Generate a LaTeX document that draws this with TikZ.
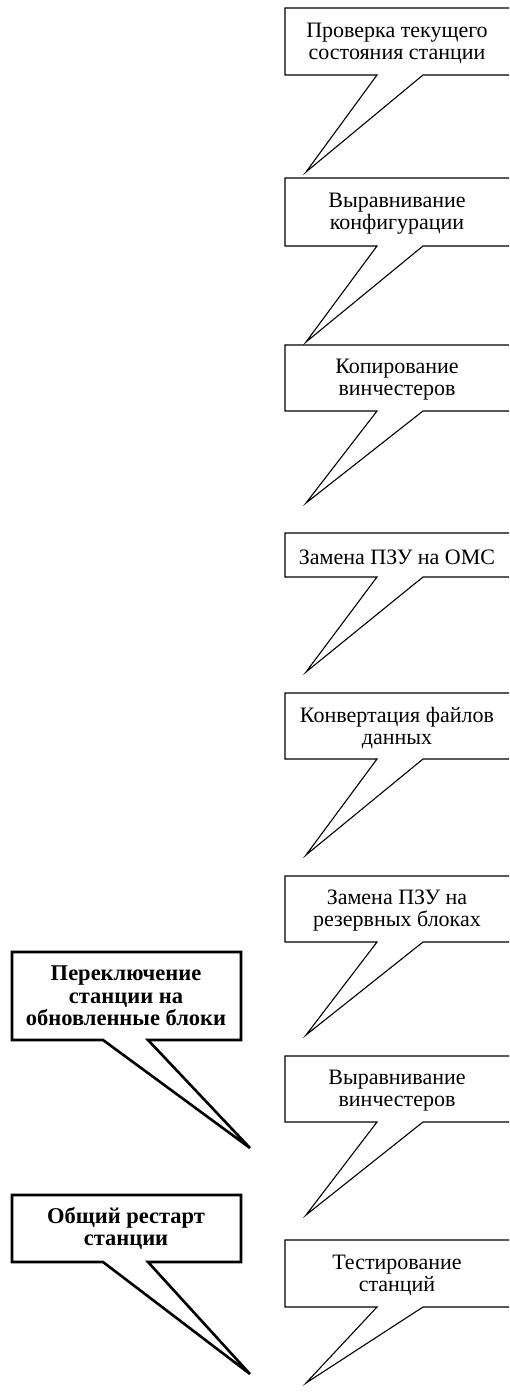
\documentclass[tikz,border=0pt]{standalone}
\usepackage{fontspec}
\setmainfont{Liberation Serif}
\newcommand\rcall[5]{%
  \draw[thinbox] (285,#2) -- (515,#2) -- (515,#3) -- (423,#3) -- (306,#4) -- (377,#3) -- (285,#3) -- cycle;
  \node[rtext] (#1) at (397,{(#2+#3)/2+2}) {#5};
}
\newcommand\lcall[5]{%
  \draw[thickbox] (12,#2) -- (241,#2) -- (241,#3) -- (148,#3) -- (250,#4) -- (103,#3) -- (12,#3) -- cycle;
  \node[btext] (#1) at (126,{(#2+#3)/2}) {#5};
}
\begin{document}
\begin{tikzpicture}[x=1pt,y=-1pt,
  thinbox/.style={draw=black, line width=1.1pt, fill=white},
  thickbox/.style={draw=black, line width=2.6pt, fill=white},
  rtext/.style={font=\fontsize{22}{22}\selectfont, align=center, inner sep=0pt},
  btext/.style={font=\fontsize{22.5}{22.5}\selectfont\bfseries, align=center, inner sep=0pt}]
\useasboundingbox (0,0) rectangle (509,1397);
\clip (0,0) rectangle (509,1397);
\rcall{c1}{8}{75}{172}{Проверка текущего\\состояния станции}
\rcall{c2}{178}{246}{342}{Выравнивание\\конфигурации}
\rcall{c3}{345}{411}{503}{Копирование\\винчестеров}
\rcall{c4}{533}{577}{672}{Замена ПЗУ на ОМС}
\rcall{c5}{693}{759}{855}{Конвертация файлов\\данных}
\rcall{c6}{876}{942}{1035}{Замена ПЗУ на\\резервных блоках}
\rcall{c7}{1056}{1122}{1215}{Выравнивание\\винчестеров}
\rcall{c8}{1240}{1307}{1383}{Тестирование\\станций}
\lcall{l1}{952}{1040}{1148}{Переключение\\станции на\\обновленные блоки}
\lcall{l2}{1195}{1262}{1374}{Общий рестарт\\станции}
\end{tikzpicture}
\end{document}
